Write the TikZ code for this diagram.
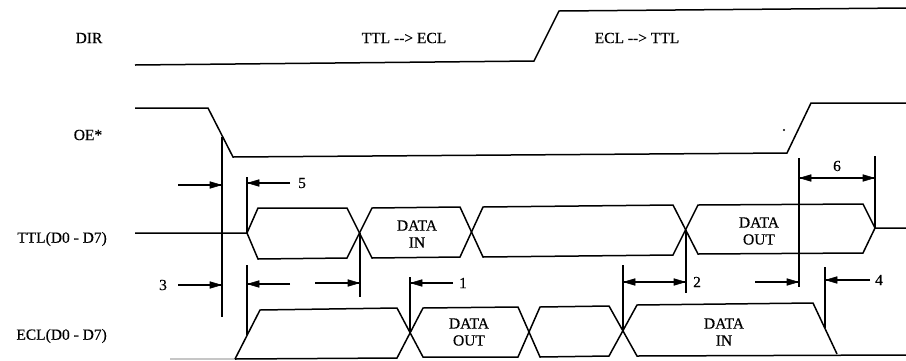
\documentclass[tikz,border=0pt]{standalone}
\usepackage{fontspec}
\setmainfont{Liberation Serif}[UprightFeatures={FakeBold=0.4}]
\begin{document}
\begin{tikzpicture}[x=1pt,y=-1pt,
  sig/.style={line width=1.5pt, line join=miter},
  tick/.style={line width=1.5pt},
  arr/.style={line width=1.2pt},
  tipstyle/.style={fill=black, draw=black, line width=0.6pt, line join=miter},
  lbl/.style={font=\fontsize{15.5}{17}\selectfont, inner sep=0pt},
  txt/.style={font=\fontsize{15.5}{17}\selectfont, inner sep=0pt, align=center}]
\newcommand\rtip[1]{\filldraw[tipstyle] (#1) -- ++(-11,-3.3) -- ++(0,6.6) -- cycle;}
\newcommand\ltip[1]{\filldraw[tipstyle] (#1) -- ++(11,-3.3) -- ++(0,6.6) -- cycle;}
\useasboundingbox (0,0) rectangle (906,360);

% signal names
\node[lbl] (ldir) at (89,38) {DIR};
\node[lbl] (loe) at (88,135) {OE*};
\node[lbl, anchor=east] (lttl) at (107,239) {TTL(D0 - D7)};
\node[lbl, anchor=east] (lecl) at (107,336) {ECL(D0 - D7)};
\node[lbl] (t2e) at (404,38) {TTL -{}-{}> ECL};
\node[lbl] (e2t) at (637,38) {ECL -{}-{}> TTL};

% DIR
\draw[sig] (135,65) -- (534,61) -- (559,11) -- (906,8);
% OE*
\draw[sig] (135,108) -- (208,108) -- (233,157) -- (787,153) -- (811,103) -- (906,103);
\fill (784,130) circle (1.2pt);

% TTL bus
\draw[sig] (135,233) -- (247,233) -- (258,208) -- (347,208) -- (372,258) -- (460,257)
  -- (483,207) -- (673,205) -- (698,254) -- (863,253) -- (875,228) -- (906,228);
\draw[sig] (247,233) -- (258,259) -- (347,258) -- (372,208) -- (460,207) -- (483,257)
  -- (673,255) -- (698,205) -- (863,204) -- (875,228);
\node[txt] (tin) at (417,234) {DATA\\IN};
\node[txt] (tout) at (759,231) {DATA\\OUT};

% ECL bus
\draw[gray!45, line width=1.5pt] (170,359) -- (235,359);
\draw[sig] (235,359) -- (260,310) -- (397,308) -- (423,357) -- (518,357) -- (540,307)
  -- (609,306) -- (637,356) -- (906,355);
\draw[sig] (235,359) -- (397,358) -- (423,308) -- (518,307) -- (540,357) -- (609,356)
  -- (637,305) -- (813,303) -- (837,354);
\node[txt] (eout) at (469,332) {DATA\\OUT};
\node[txt] (ein) at (724,332) {DATA\\IN};

% timing ticks
\coordinate (a1) at (222,137); \coordinate (a2) at (222,317);
\coordinate (b1) at (247,177); \coordinate (b2) at (247,233);
\coordinate (b3) at (247,265); \coordinate (b4) at (247,335);
\coordinate (c1) at (360,233); \coordinate (c2) at (360,297);
\coordinate (d1) at (410,277); \coordinate (d2) at (410,333);
\coordinate (e1) at (623,265); \coordinate (e2) at (623,331);
\coordinate (f1) at (686,230); \coordinate (f2) at (686,293);
\coordinate (g1) at (799,158); \coordinate (g2) at (799,287);
\coordinate (h1) at (875,156); \coordinate (h2) at (875,228);
\coordinate (i1) at (825,267); \coordinate (i2) at (825,328);
\foreach \p in {a,b,c,d,e,f,g,h,i}{\draw[tick] (\p1) -- (\p2);}
\draw[tick] (b3) -- (b4);

% dimension labels
\node[lbl] (n3) at (163,285) {3};
\node[lbl] (n5) at (302,183) {5};
\node[lbl] (n1) at (463,283) {1};
\node[lbl] (n2) at (697,282) {2};
\node[lbl] (n4) at (879,280) {4};
\node[lbl] (n6) at (837,166) {6};

% dimension arrows
\coordinate (p3a) at (221,185); \draw[arr] (178,185) -- (p3a); \rtip{p3a}
\coordinate (p3b) at (221,285); \draw[arr] (178,285) -- (p3b); \rtip{p3b}
\coordinate (p5a) at (248,183); \draw[arr] (290,183) -- (p5a); \ltip{p5a}
\coordinate (p5b) at (248,284); \draw[arr] (290,284) -- (p5b); \ltip{p5b}
\coordinate (p5c) at (359,283); \draw[arr] (315,283) -- (p5c); \rtip{p5c}
\coordinate (p1) at (411,283);  \draw[arr] (453,283) -- (p1);  \ltip{p1}
\coordinate (p2a) at (624,282); \coordinate (p2b) at (685,282);
\draw[arr] (p2a) -- (p2b); \ltip{p2a} \rtip{p2b}
\coordinate (p4a) at (798,282); \draw[arr] (755,282) -- (p4a); \rtip{p4a}
\coordinate (p6a) at (800,178); \coordinate (p6b) at (874,178);
\draw[arr] (p6a) -- (p6b); \ltip{p6a} \rtip{p6b}
\coordinate (p4b) at (826,280); \draw[arr] (870,280) -- (p4b); \ltip{p4b}
\end{tikzpicture}
\end{document}
